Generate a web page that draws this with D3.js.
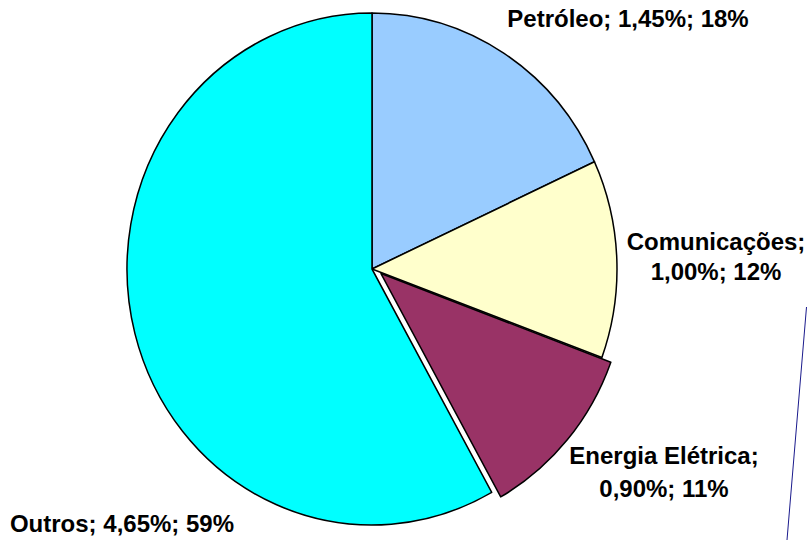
<!DOCTYPE html>
<html>
<head>
<meta charset="utf-8">
<script src="https://cdn.jsdelivr.net/npm/d3@7"></script>
<style>
  body { margin: 0; background: #fff; }
  svg { display: block; }
  .lbl { font-family: "Liberation Sans", Arial, sans-serif; font-weight: bold; font-size: 24px; fill: #000; }
</style>
</head>
<body>
<div id="chart"></div>
<script>
// sectors, in drawing order (clockwise from 12 o'clock)
let categories = ["Petróleo", "Comunicações", "Energia Elétrica", "Outros"];
let values = [1.45, 1.00, 0.90, 4.65];
let shares = ["18%", "12%", "11%", "59%"];
let colors = ["#99CCFF", "#FFFFCC", "#993366", "#00FFFF"];
let exploded = [0, 0, 10, 0];

// label layout: anchor x, first baseline, gap to second line
let labelPos = [
	{ x: 628, y: 27, gap: 0 },
	{ x: 716, y: 250, gap: 30 },
	{ x: 664, y: 464, gap: 33 },
	{ x: 122, y: 532, gap: 0 }
];

let width = 807, height = 540;
let cx = 372, cy = 269, rx = 245, ry = 256;

let fmt = d3.formatLocale({ decimal: ",", thousands: ".", grouping: [3], currency: ["", ""] }).format(".2f");

let svg = d3.select("#chart").append("svg")
	.attr("width", width)
	.attr("height", height);

let pie = d3.pie().sort(null).value(function(d) { return d; });
let arc = d3.arc().innerRadius(0).outerRadius(rx);
let arcs = pie(values);

let g = svg.append("g")
	.attr("transform", "translate(" + cx + "," + cy + ") scale(1," + (ry / rx) + ")");

// the pulled-out slice slides mostly along its leading edge
g.selectAll("path.slice")
	.data(arcs)
	.enter().append("path")
	.attr("class", "slice")
	.attr("fill", function(d, i) { return colors[i]; })
	.attr("stroke", "#000")
	.attr("stroke-width", 1.5)
	.attr("stroke-linejoin", "round")
	.attr("transform", function(d, i) {
		let a = d.startAngle + 0.1;
		return "translate(" + (Math.sin(a) * exploded[i]) + "," + (-Math.cos(a) * exploded[i]) + ")";
	})
	.attr("d", arc);

let labels = svg.selectAll("text.lbl")
	.data(arcs)
	.enter().append("text")
	.attr("class", "lbl")
	.attr("text-anchor", "middle")
	.attr("x", function(d, i) { return labelPos[i].x; })
	.attr("y", function(d, i) { return labelPos[i].y; });

labels.each(function(d, i) {
	let t = d3.select(this);
	let head = categories[i] + ";";
	let tail = fmt(values[i]) + "%; " + shares[i];
	if (!labelPos[i].gap) {
		t.text(head + " " + tail);
	} else {
		t.append("tspan").attr("x", labelPos[i].x).text(head);
		t.append("tspan").attr("x", labelPos[i].x).attr("dy", labelPos[i].gap).text(tail);
	}
});

// stray thin rule at the right edge
svg.append("line")
	.attr("x1", 806.5).attr("y1", 307)
	.attr("x2", 787).attr("y2", 540)
	.attr("stroke", "#1a1a8c")
	.attr("stroke-width", 1);
</script>
</body>
</html>
